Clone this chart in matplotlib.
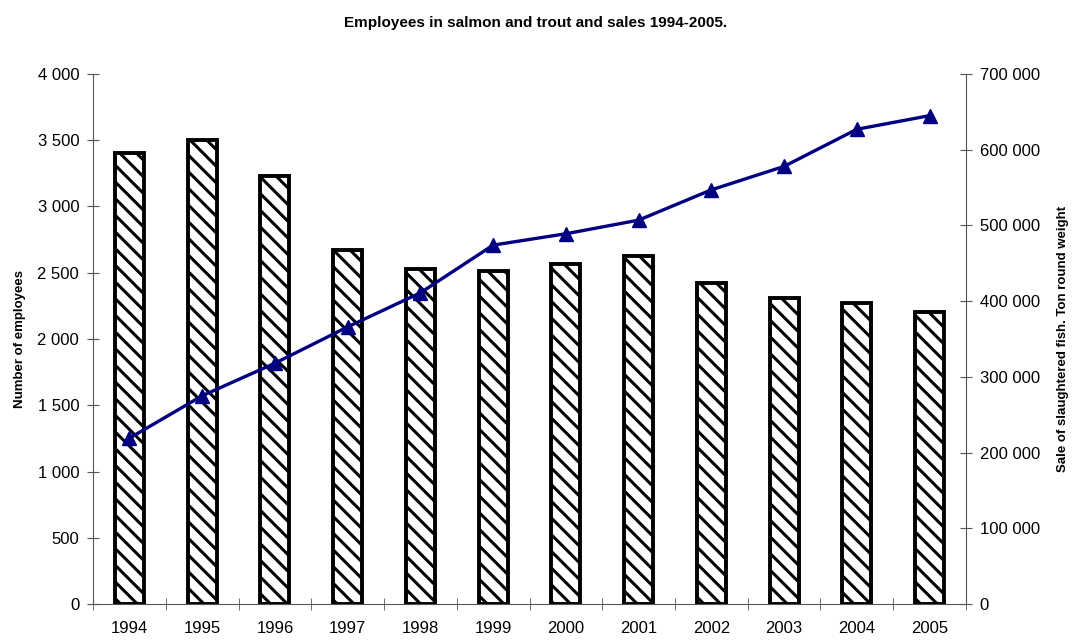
import matplotlib
matplotlib.use('Agg')
import matplotlib.pyplot as plt
import numpy as np
from matplotlib.ticker import FuncFormatter, MultipleLocator, FixedLocator

years = ['1994', '1995', '1996', '1997', '1998', '1999', '2000', '2001', '2002', '2003', '2004', '2005']
employees = [3400, 3500, 3230, 2675, 2530, 2515, 2565, 2630, 2425, 2310, 2270, 2205]
sales = [219000, 275000, 318000, 366000, 411000, 474000, 489000, 507000, 547000, 578000, 627000, 645000]

plt.rcParams['font.family'] = ['Liberation Sans', 'DejaVu Sans']
plt.rcParams['hatch.color'] = '#5a5a5a'
plt.rcParams['hatch.linewidth'] = 2.2

def spaced(v, pos):
    return '{:,}'.format(int(v)).replace(',', ' ')

fig = plt.figure(figsize=(10.72, 6.44), dpi=100)
ax = fig.add_axes([0.0868, 0.0621, 0.8143, 0.8230])
x = np.arange(len(years))
ax.bar(x, employees, width=0.40, color='white', edgecolor='black', linewidth=2.8, hatch='\\\\')
ax.set_xlim(-0.5, len(years) - 0.5)
ax.set_ylim(0, 4000)
ax.yaxis.set_major_locator(MultipleLocator(500))
ax.yaxis.set_major_formatter(FuncFormatter(spaced))
ax.set_xticks(x)
ax.set_xticklabels(years)
ax.xaxis.set_minor_locator(FixedLocator(np.arange(-0.5, len(years), 1)))
ax.tick_params(axis='x', which='major', length=0, labelsize=12, pad=12)
ax.tick_params(axis='x', which='minor', length=8, direction='inout', color='#555555')
ax.tick_params(axis='y', length=8, direction='inout', labelsize=12, color='#555555', pad=6)
for s in ['top', 'right']:
    ax.spines[s].set_visible(False)
ax.spines['left'].set_color('#555555')
ax.spines['bottom'].set_color('#555555')
ax.set_ylabel('Number of employees', fontsize=9.5, fontweight='bold', labelpad=8)

ax2 = ax.twinx()
ax2.plot(x, sales, color='#000080', linewidth=2.4, marker='^', markersize=10)
ax2.set_ylim(0, 700000)
ax2.yaxis.set_major_locator(MultipleLocator(100000))
ax2.yaxis.set_major_formatter(FuncFormatter(spaced))
ax2.tick_params(axis='y', length=8, direction='inout', labelsize=12, color='#555555', pad=6)
for s in ['top', 'left', 'bottom']:
    ax2.spines[s].set_visible(False)
ax2.spines['right'].set_color('#555555')
ax2.set_ylabel('Sale of slaughtered fish. Ton round weight', fontsize=9.5, fontweight='bold', labelpad=12)

fig.suptitle('Employees in salmon and trout and sales 1994-2005.', fontsize=11, fontweight='bold', y=0.975)
fig.savefig('out.png', dpi=100)
